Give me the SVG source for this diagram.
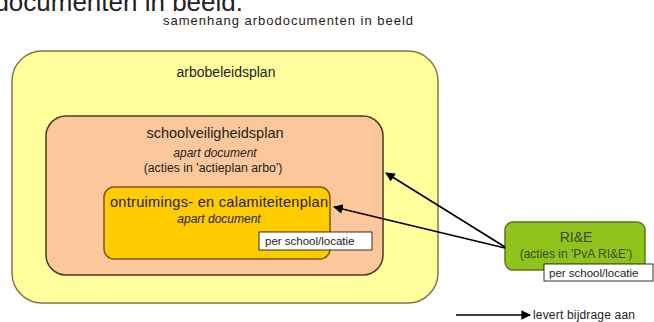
<svg xmlns="http://www.w3.org/2000/svg" width="654" height="322" viewBox="0 0 654 322">
<defs>
<style>
text{font-family:"Liberation Sans",Arial,sans-serif;fill:#222}
.c{text-anchor:middle}
.it{font-style:italic;font-size:12px}
.lbl{fill:#fff;stroke:#000;stroke-width:0.8}
.conn{stroke:#000;stroke-width:1.6;fill:none;marker-end:url(#ah)}
</style>
<marker id="ah" viewBox="0 0 10 10" refX="9" refY="5" markerWidth="6" markerHeight="6" orient="auto" markerUnits="strokeWidth">
<path d="M0,0 L10,5 L0,10 z" fill="#000"/>
</marker>
</defs>
<rect width="654" height="322" fill="#fff"/>
<text x="243" y="11" font-size="26" text-anchor="end">documenten in beeld.</text>
<text x="163" y="25" font-size="13" textLength="250" lengthAdjust="spacing">samenhang arbodocumenten in beeld</text>

<g id="arbobeleidsplan">
<rect x="12" y="51" width="426" height="252" rx="30" ry="30" fill="#ffff9e" stroke="#7a7a40" stroke-width="1.5"/>
<text class="c" x="226" y="77" font-size="14">arbobeleidsplan</text>
</g>

<g id="schoolveiligheidsplan">
<rect x="46" y="116" width="337" height="159" rx="20" ry="20" fill="#fcc89b" stroke="#4a3a20" stroke-width="1.5"/>
<text class="c" x="215" y="138" font-size="14.5">schoolveiligheidsplan</text>
<text class="c it" x="215" y="157">apart document</text>
<text class="c" x="213" y="172" font-size="12.3">(acties in 'actieplan arbo')</text>
</g>

<g id="ontruimingsplan">
<rect x="104" y="187" width="226" height="72" rx="10" ry="10" fill="#ffcc00" stroke="#7a5a10" stroke-width="1.5"/>
<text x="110" y="207" font-size="14.5" textLength="218" lengthAdjust="spacing">ontruimings- en calamiteitenplan</text>
<text class="c it" x="219" y="223">apart document</text>
<rect class="lbl" x="259" y="232" width="113" height="18"/>
<text x="265" y="245" font-size="11.5">per school/locatie</text>
</g>

<g id="rie">
<rect x="505" y="222" width="140" height="48" rx="8" ry="8" fill="#90c41c" stroke="#5a7a10" stroke-width="1.5"/>
<text class="c" x="576" y="242" font-size="14" style="fill:#3a4a30">RI&amp;E</text>
<text class="c" x="576" y="258" font-size="12" style="fill:#3a4a30">(acties in 'PvA RI&amp;E')</text>
<rect class="lbl" x="544" y="264" width="109" height="17"/>
<text x="549" y="277" font-size="11.5">per school/locatie</text>
</g>

<g id="connectors">
<line class="conn" x1="505" y1="247" x2="386" y2="173"/>
<line class="conn" x1="505" y1="248" x2="334" y2="207"/>
</g>

<g id="legend">
<line class="conn" x1="456" y1="315" x2="530" y2="315"/>
<text x="533" y="319" font-size="12" textLength="102" lengthAdjust="spacing">levert bijdrage aan</text>
</g>
</svg>
